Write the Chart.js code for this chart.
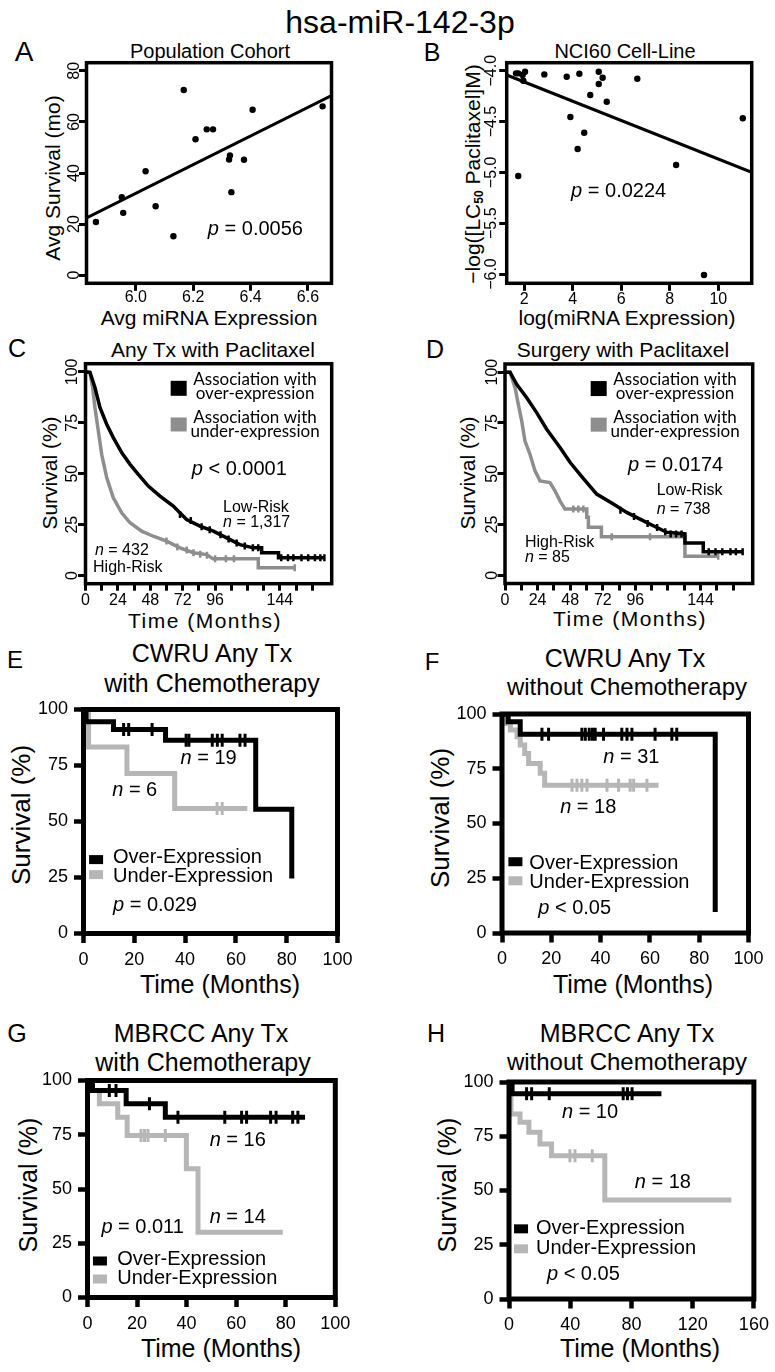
<!DOCTYPE html>
<html>
<head>
<meta charset="utf-8">
<script src="https://cdn.jsdelivr.net/npm/chart.js@4.4.1/dist/chart.umd.min.js"></script>
<style>
body { margin: 0; background: #fff; }
#page { position: relative; width: 775px; height: 1372px; overflow: hidden; font-family: "Liberation Sans", Arial, sans-serif; color: #000; }
.t { position: absolute; white-space: nowrap; line-height: 1; transform: translate(-50%, -50%); }
.r { transform: translate(-50%, -50%) rotate(-90deg); }
.ls { letter-spacing: 1.5px; }
canvas { position: absolute; }
sub { font-size: 12px; font-weight: bold; vertical-align: -3px; }
</style>
</head>
<body>
<div id="page">
  <div class="t" style="left:400px;top:22px;font-size:32px">hsa-miR-142-3p</div>

  <div class="t" style="left:24px;top:52px;font-size:28px">A</div>
  <div class="t" style="left:432px;top:52px;font-size:25px">B</div>
  <div class="t" style="left:17px;top:348px;font-size:25px">C</div>
  <div class="t" style="left:435px;top:349px;font-size:25px">D</div>
  <div class="t" style="left:15px;top:660px;font-size:24px">E</div>
  <div class="t" style="left:432px;top:662px;font-size:24px">F</div>
  <div class="t" style="left:17px;top:1033px;font-size:25px">G</div>
  <div class="t" style="left:436px;top:1033px;font-size:25px">H</div>

  <div class="t" style="left:210px;top:51px;font-size:20px">Population Cohort</div>
  <div class="t" style="left:625px;top:51px;font-size:20px">NCI60 Cell-Line</div>
  <div class="t" style="left:213px;top:349px;font-size:21px">Any Tx with Paclitaxel</div>
  <div class="t" style="left:623px;top:349px;font-size:21px">Surgery with Paclitaxel</div>
  <div class="t" style="left:212px;top:653px;font-size:25px">CWRU Any Tx</div>
  <div class="t" style="left:212px;top:683px;font-size:25px">with Chemotherapy</div>
  <div class="t" style="left:625px;top:658px;font-size:25px">CWRU Any Tx</div>
  <div class="t" style="left:627px;top:687px;font-size:24px">without Chemotherapy</div>
  <div class="t" style="left:201px;top:1033px;font-size:25px">MBRCC Any Tx</div>
  <div class="t" style="left:203px;top:1062px;font-size:25px">with Chemotherapy</div>
  <div class="t" style="left:627px;top:1033px;font-size:25px">MBRCC Any Tx</div>
  <div class="t" style="left:627px;top:1062px;font-size:24px">without Chemotherapy</div>

  <div class="t" style="left:209px;top:317px;font-size:21px">Avg miRNA Expression</div>
  <div class="t r" style="left:52px;top:178px;font-size:21px">Avg Survival (mo)</div>
  <div class="t" style="left:627px;top:317px;font-size:21px">log(miRNA Expression)</div>
  <div class="t r" style="left:473px;top:174px;font-size:21px">−log([LC<sub>50</sub> Paclitaxel]M)</div>
  <div class="t ls" style="left:205px;top:620px;font-size:21px">Time (Months)</div>
  <div class="t r" style="left:49px;top:473px;font-size:21px">Survival (%)</div>
  <div class="t ls" style="left:630px;top:618px;font-size:21px">Time (Months)</div>
  <div class="t r" style="left:467px;top:473px;font-size:21px">Survival (%)</div>
  <div class="t" style="left:220px;top:984px;font-size:25px">Time (Months)</div>
  <div class="t r" style="left:21px;top:815px;font-size:26px">Survival (%)</div>
  <div class="t" style="left:633px;top:984px;font-size:25px">Time (Months)</div>
  <div class="t r" style="left:440px;top:818px;font-size:26px">Survival (%)</div>
  <div class="t" style="left:221px;top:1348px;font-size:25px">Time (Months)</div>
  <div class="t r" style="left:28px;top:1185px;font-size:25px">Survival (%)</div>
  <div class="t" style="left:640px;top:1348px;font-size:25px">Time (Months)</div>
  <div class="t r" style="left:447px;top:1185px;font-size:25px">Survival (%)</div>
</div>

<script>
const FONT = '"Liberation Sans", Arial, sans-serif';
const LEGFONT = 'Lato, "Open Sans", sans-serif';
Chart.defaults.font.family = FONT;
Chart.defaults.color = '#000';

// A - population cohort scatter
const aExpr = [5.861, 5.951, 5.956, 6.034, 6.069, 6.131, 6.167, 6.208, 6.247, 6.269, 6.328, 6.325, 6.333, 6.377, 6.407, 6.651];
const aSurv = [20.8, 30.5, 24.4, 40.7, 27.0, 15.2, 72.5, 53.2, 57.1, 57.1, 46.9, 45.3, 32.5, 45.2, 64.8, 66.1];
const aFitX = [5.828, 6.682];
const aFitY = [22.4, 70.3];
const aXTicks = [6.0, 6.2, 6.4, 6.6];
const aYTicks = [0, 20, 40, 60, 80];

// B - NCI60 scatter
const bExpr = [1.658, 1.753, 1.93, 2.03, 1.96, 2.825, 3.75, 4.27, 5.07, 5.23, 5.07, 4.72, 5.40, 6.66, 3.90, 4.47, 4.20, 1.75, 8.26, 11.01, 9.41];
const bLogLC50 = [-4.026, -4.026, -4.042, -4.01, -4.098, -4.036, -4.059, -4.029, -4.01, -4.069, -4.131, -4.239, -4.305, -4.079, -4.455, -4.61, -4.77, -5.035, -4.927, -4.468, -6.009];
const bFitX = [1.274, 11.377];
const bFitY = [-4.042, -4.999];
const bXTicks = [2, 4, 6, 8, 10];
const bYTicks = [-6, -5.5, -5, -4.5, -4];

// C - any tx with paclitaxel
const cLowTime = [0, 3.3, 7.0, 10.7, 15.7, 20.6, 26.8, 33.0, 39.1, 46.5, 55.2, 65.0, 74.9, 84.8, 94.7, 104.6, 114.4, 124.3, 130.5, 130.5, 143, 143, 177];
const cLowSurv = [100, 99.7, 92.3, 82.5, 74.3, 67.7, 60.4, 54.6, 49.7, 43.9, 39.0, 34.1, 27.5, 24.3, 21.8, 18.5, 15.2, 13.6, 13.6, 11.2, 11.2, 8.7, 8.7];
const cHighTime = [0, 3.3, 5.3, 7.0, 9.5, 12.0, 15.7, 20.6, 26.8, 33.0, 41.6, 50.2, 60.1, 70.0, 79.9, 89.8, 94.5, 128, 128, 155];
const cHighSurv = [100, 99.7, 92.3, 82.5, 71.0, 59.5, 48.1, 38.2, 30.8, 25.9, 21.8, 19.3, 16.9, 13.6, 11.2, 10.3, 8.2, 8.2, 3.8, 3.8];
const cLowCensTime = [70, 78, 86, 92, 100, 106, 112, 118, 124, 128, 145, 150, 154, 160, 165, 170, 174, 177];
const cLowCensSurv = [30, 27, 24, 22.5, 20, 18, 16, 14.5, 13.6, 13.6, 8.7, 8.7, 8.7, 8.7, 8.7, 8.7, 8.7, 8.7];
const cHighCensTime = [60, 68, 75, 80, 85, 90, 96, 104, 110, 155];
const cHighCensSurv = [17, 14, 12.5, 11.2, 10.5, 10, 8.2, 8.2, 8.2, 3.8];

// D - surgery with paclitaxel
const dLowTime = [0, 3.7, 8.6, 16, 23.3, 30.7, 40.5, 48, 57, 67.5, 79.8, 89.6, 99.4, 109.2, 119.1, 132.5, 132.5, 146, 146, 175];
const dLowSurv = [100, 100, 94, 87.4, 80.1, 71.9, 62.9, 55.5, 48.2, 40, 35.1, 31, 27.7, 24.4, 21.2, 20.4, 15.9, 15.9, 11.6, 11.6];
const dHighTime = [0, 3.7, 7.4, 9.8, 12.3, 14.7, 18.4, 22.1, 25.8, 33.1, 36.8, 40.5, 44.2, 60.2, 60.2, 61.4, 61.4, 71, 71, 132.5, 132.5, 157];
const dHighSurv = [100, 100, 92.3, 84.1, 76, 66.1, 59.6, 51.4, 46.5, 45.7, 41.6, 36.7, 32.6, 32.6, 28.6, 28.6, 23.7, 23.7, 19, 19, 9.4, 9.4];
const dLowCensTime = [85, 95, 105, 112, 118, 122, 126, 130, 150, 155, 160, 166, 170, 175];
const dLowCensSurv = [32, 29, 25.5, 23.5, 21.5, 20.4, 20.4, 20.4, 11.6, 11.6, 11.6, 11.6, 11.6, 11.6];
const dHighCensTime = [50.3, 54, 57.7, 78.6, 106.8, 157];
const dHighCensSurv = [32.6, 32.6, 32.6, 19, 19, 9.4];

const cdXTicks = [0, 12, 24, 36, 48, 60, 72, 84, 96, 108, 120, 132, 144, 156, 168];
const cdXLabels = [0, 24, 48, 72, 96, 144];
const kmYTicks = [0, 25, 50, 75, 100];

// E - CWRU with chemotherapy
const eOverTime = [0, 1, 11.8, 32.3, 67.8, 82];
const eOverSurv = [100, 94.5, 91.1, 86.3, 55.5, 24.6];
const eUnderTime = [0, 2, 17.1, 35.9, 64.5];
const eUnderSurv = [100, 83.3, 71.4, 55.8, 55.8];
const eOverCensTime = [15.8, 17.8, 27, 40.4, 41.5, 50.7, 52.7, 54.6, 61.6, 63.6];
const eOverCensSurv = [91.1, 91.1, 91.1, 86.3, 86.3, 86.3, 86.3, 86.3, 86.3, 86.3];
const eUnderCensTime = [52.6, 54.6];
const eUnderCensSurv = [55.8, 55.8];

// F - CWRU without chemotherapy
const fOverTime = [0, 2.5, 7.4, 86.5];
const fOverSurv = [100, 96.5, 90.7, 9.6];
const fUnderTime = [0, 1, 3.4, 6.1, 7.4, 9.2, 10.8, 15.5, 17.3, 63.5];
const fUnderSurv = [100, 95.7, 92.7, 89.6, 85.8, 82.0, 77.4, 72.9, 67.5, 67.5];
const fOverCensTime = [16.2, 18.9, 32.4, 33.8, 35.4, 36.7, 37.8, 41.2, 48.6, 50.7, 52.7, 62.1, 68.9, 70.9];
const fOverCensSurv = [90.7, 90.7, 90.7, 90.7, 90.7, 90.7, 90.7, 90.7, 90.7, 90.7, 90.7, 90.7, 90.7, 90.7];
const fUnderCensTime = [28.4, 30.4, 32.4, 34.5, 42.6, 47.3, 52.0, 53.4, 58.8];
const fUnderCensSurv = [67.5, 67.5, 67.5, 67.5, 67.5, 67.5, 67.5, 67.5, 67.5];

// G - MBRCC with chemotherapy
const gOverTime = [0, 2, 15.6, 31.4, 87.8];
const gOverSurv = [100, 95.4, 89.3, 83.1, 83.1];
const gUnderTime = [0, 2, 4.8, 12.2, 16, 39.9, 44.6, 78.8];
const gUnderSurv = [100, 95.4, 89.3, 83.1, 74.7, 59.3, 30.1, 30.1];
const gOverCensTime = [8.8, 11.5, 25, 36.5, 55.4, 62.2, 64.2, 73.9, 76.1, 82.8, 84.9];
const gOverCensSurv = [95.4, 95.4, 89.3, 83.1, 83.1, 83.1, 83.1, 83.1, 83.1, 83.1, 83.1];
const gUnderCensTime = [21.6, 23.0, 24.4, 31.4];
const gUnderCensSurv = [74.7, 74.7, 74.7, 74.7];

// H - MBRCC without chemotherapy
const hOverTime = [0, 2, 99.6];
const hOverSurv = [100, 94.6, 94.6];
const hUnderTime = [0, 1.3, 7.2, 13, 20.2, 27.8, 62.6, 145.3];
const hUnderSurv = [100, 85.3, 81.4, 76.8, 71.4, 66.0, 45.6, 45.6];
const hOverCensTime = [11.5, 14.8, 26.3, 74.6, 77.4, 80.4];
const hOverCensSurv = [94.6, 94.6, 94.6, 94.6, 94.6, 94.6];
const hUnderCensTime = [39.8, 43.1, 54.4];
const hUnderCensSurv = [66.0, 66.0, 66.0];

const efgXTicks = [0, 20, 40, 60, 80, 100];
const hXTicks = [0, 40, 80, 120, 160];

const GREY_DARK = '#8e8e8e';
const GREY_LIGHT = '#b6b6b6';

const pts = (xs, ys) => xs.map((v, i) => ({ x: v, y: ys[i] }));

function curve(xs, ys, color, width, stepped) {
  return { data: pts(xs, ys), borderColor: color, borderWidth: width, pointRadius: 0,
    stepped: stepped, tension: 0, fill: false, borderJoinStyle: 'miter' };
}
function censors(xs, ys, color, r, w) {
  return { data: pts(xs, ys), showLine: false, pointStyle: 'line', pointRotation: 90,
    pointRadius: r, pointBorderWidth: w, pointBorderColor: color, borderColor: color };
}
function dots(xs, ys) {
  return { data: pts(xs, ys), showLine: false, pointStyle: 'circle', pointRadius: 3.2,
    pointBackgroundColor: '#000', pointBorderWidth: 0, borderColor: '#000' };
}

function axisOpts(a, horizontal, edge) {
  return {
    type: 'linear', min: a.min, max: a.max,
    afterBuildTicks: s => { s.ticks = a.ticks.map(v => ({ value: v })); },
    afterFit: s => { if (horizontal) s.height = edge; else s.width = edge; },
    grid: { display: true, drawOnChartArea: false, drawTicks: true, tickLength: a.tl, tickWidth: a.tw, tickColor: '#000' },
    border: { display: false },
    ticks: { display: !!a.fmt, autoSkip: false, maxRotation: 0, minRotation: 0, padding: a.pad || 0,
      color: '#000', font: { family: FONT, size: a.size || 16 }, callback: v => (a.fmt ? a.fmt(v) : '') }
  };
}

function drawNote(ctx, px, py, n) {
  const size = n.size || 20;
  const fam = n.fam || FONT;
  const m = /^([pn]) (.*)$/.exec(n.t);
  const parts = m ? [[m[1], 'italic '], [' ' + m[2], '']] : [[n.t, '']];
  let w = 0;
  parts.forEach(p => { ctx.font = p[1] + size + 'px ' + fam; p.push(ctx.measureText(p[0]).width); w += p[2]; });
  let cx = n.align === 'center' ? px - w / 2 : px;
  ctx.textBaseline = 'middle';
  ctx.textAlign = 'left';
  ctx.fillStyle = '#000';
  parts.forEach(p => { ctx.font = p[1] + size + 'px ' + fam; ctx.fillText(p[0], cx, py); cx += p[2]; });
}

function decor(spec) {
  return {
    id: 'decor' + spec.id,
    afterDatasetsDraw(chart) {
      const { ctx, chartArea: a } = chart;
      ctx.save();
      ctx.lineWidth = spec.frame;
      ctx.strokeStyle = '#000';
      ctx.strokeRect(a.left, a.top, a.right - a.left, a.bottom - a.top);
      ctx.restore();
    },
    afterDraw(chart) {
      const { ctx, scales: { x, y } } = chart;
      ctx.save();
      if (spec.yLab) {
        ctx.font = spec.yLab.size + 'px ' + FONT;
        ctx.fillStyle = '#000';
        ctx.textAlign = 'center';
        ctx.textBaseline = 'middle';
        spec.yLab.values.forEach(v => {
          ctx.save();
          ctx.translate(spec.yLab.cx - spec.box[0], y.getPixelForValue(v));
          ctx.rotate(-Math.PI / 2);
          ctx.fillText(spec.yLab.fmt(v), 0, 0);
          ctx.restore();
        });
      }
      (spec.boxes || []).forEach(b => {
        ctx.fillStyle = b.color;
        ctx.fillRect(x.getPixelForValue(b.x), y.getPixelForValue(b.y), b.w, b.h);
      });
      (spec.notes || []).forEach(n => drawNote(ctx, x.getPixelForValue(n.x), y.getPixelForValue(n.y), n));
      ctx.restore();
    }
  };
}

function makePanel(spec) {
  const [bx, by, bw, bh] = spec.box;
  const [l, t, r, b] = spec.area;
  const cv = document.createElement('canvas');
  cv.width = bw;
  cv.height = bh;
  cv.style.left = bx + 'px';
  cv.style.top = by + 'px';
  document.getElementById('page').appendChild(cv);
  new Chart(cv, {
    type: 'line',
    data: { datasets: spec.datasets },
    options: {
      responsive: false, animation: false, events: [], devicePixelRatio: 1,
      layout: { padding: { top: t - by, right: bx + bw - r, left: 0, bottom: 0 } },
      plugins: { legend: { display: false }, tooltip: { enabled: false } },
      scales: {
        x: axisOpts(spec.x, true, by + bh - b),
        y: axisOpts(spec.y, false, l - bx)
      }
    },
    plugins: [decor(spec)]
  });
}

const fmt1 = v => v.toFixed(1);
const fmtNeg = v => '\u2212' + Math.abs(v).toFixed(1);
const fmtInt = v => String(v);
const fmtCD = v => (cdXLabels.includes(v) ? String(v) : '');

// A
makePanel({
  id: 'A', box: [0, 35, 385, 300], area: [86.5, 62.7, 331.5, 283.3], frame: 3.5,
  x: { min: 5.828, max: 6.682, ticks: aXTicks, fmt: fmt1, tl: 7.5, tw: 3, size: 16, pad: -2.5 },
  y: { min: -3.2, max: 83.2, ticks: aYTicks, tl: 7.5, tw: 3 },
  yLab: { cx: 75, values: aYTicks, fmt: fmtInt, size: 16 },
  datasets: [dots(aExpr, aSurv), curve(aFitX, aFitY, '#000', 3, false)],
  notes: [{ x: 6.251, y: 17.8, t: 'p = 0.0056', size: 20 }]
});

// B
makePanel({
  id: 'B', box: [420, 35, 355, 300], area: [506.7, 62.7, 751.7, 283.3], frame: 3.5,
  x: { min: 1.274, max: 11.377, ticks: bXTicks, fmt: fmtInt, tl: 7.5, tw: 3, size: 16, pad: -1 },
  y: { min: -6.091, max: -3.921, ticks: bYTicks, tl: 7.5, tw: 3 },
  yLab: { cx: 491.7, values: bYTicks, fmt: fmtNeg, size: 16 },
  datasets: [dots(bExpr, bLogLC50), curve(bFitX, bFitY, '#000', 3, false)],
  notes: [{ x: 3.93, y: -5.19, t: 'p = 0.0224', size: 20 }]
});

function cdNotes(legX) {
  return [
    { x: legX, y: 96.4, t: 'Association with', size: 17, fam: LEGFONT, align: 'center' },
    { x: legX, y: 89.4, t: 'over-expression', size: 17, fam: LEGFONT, align: 'center' },
    { x: legX, y: 77.6, t: 'Association with', size: 17, fam: LEGFONT, align: 'center' },
    { x: legX, y: 70.7, t: 'under-expression', size: 17, fam: LEGFONT, align: 'center' }
  ];
}
const cdBoxes = [
  { x: 63.1, y: 95.6, w: 16, h: 15, color: '#000' },
  { x: 63.1, y: 77.6, w: 16, h: 14, color: GREY_DARK }
];

// C
makePanel({
  id: 'C', box: [0, 355, 385, 265], area: [85.5, 363.7, 331.7, 583.7], frame: 3.5,
  x: { min: 0, max: 182.4, ticks: cdXTicks, fmt: fmtCD, tl: 7, tw: 3, size: 16, pad: 0.5 },
  y: { min: -4, max: 104, ticks: kmYTicks, tl: 7.5, tw: 3 },
  yLab: { cx: 72.5, values: kmYTicks, fmt: fmtInt, size: 16 },
  datasets: [
    censors(cLowCensTime, cLowCensSurv, '#000', 3.5, 2.5),
    curve(cLowTime, cLowSurv, '#000', 3.5, false),
    censors(cHighCensTime, cHighCensSurv, GREY_DARK, 3.5, 2.5),
    curve(cHighTime, cHighSurv, GREY_DARK, 3.5, false)
  ],
  boxes: cdBoxes,
  notes: [
    { x: 78.7, y: 52.1, t: 'p < 0.0001', size: 20 },
    { x: 101.9, y: 33.3, t: 'Low-Risk', size: 16 },
    { x: 101.9, y: 25.9, t: 'n = 1,317', size: 16 },
    { x: 7.0, y: 12.3, t: 'n = 432', size: 16 },
    { x: 5.6, y: 3.8, t: 'High-Risk', size: 16 }
  ].concat(cdNotes(125.6))
});

// D
makePanel({
  id: 'D', box: [420, 355, 355, 265], area: [505, 364, 752.7, 583.5], frame: 3.5,
  x: { min: 0, max: 182.4, ticks: cdXTicks, fmt: fmtCD, tl: 7, tw: 3, size: 16, pad: 0.5 },
  y: { min: -4, max: 104, ticks: kmYTicks, tl: 7.5, tw: 3 },
  yLab: { cx: 492.5, values: kmYTicks, fmt: fmtInt, size: 16 },
  datasets: [
    censors(dLowCensTime, dLowCensSurv, '#000', 3.5, 2.5),
    curve(dLowTime, dLowSurv, '#000', 3.5, false),
    censors(dHighCensTime, dHighCensSurv, GREY_DARK, 3.5, 2.5),
    curve(dHighTime, dHighSurv, GREY_DARK, 3.5, false)
  ],
  boxes: cdBoxes,
  notes: [
    { x: 90.6, y: 53.9, t: 'p = 0.0174', size: 20 },
    { x: 111.7, y: 41.6, t: 'Low-Risk', size: 16 },
    { x: 111.7, y: 32.6, t: 'n = 738', size: 16 },
    { x: 14.7, y: 16.3, t: 'High-Risk', size: 16 },
    { x: 14.7, y: 8.6, t: 'n = 85', size: 16 }
  ].concat(cdNotes(125.2))
});

function kmPanel(id, box, area, xMax, xTicks, over, under, overCens, underCens, legX, legTopOver, legTopUnder, notes) {
  makePanel({
    id, box, area, frame: 5,
    x: { min: 0, max: xMax, ticks: xTicks, fmt: fmtInt, tl: 9.5, tw: 4.5, size: 18, pad: 6.1 },
    y: { min: 0, max: 100, ticks: kmYTicks, fmt: fmtInt, tl: 9.5, tw: 4.5, size: 18, pad: 6 },
    datasets: [
      censors(overCens[0], overCens[1], '#000', 6.5, 3),
      curve(over[0], over[1], '#000', 5, true),
      censors(underCens[0], underCens[1], GREY_LIGHT, 6.5, 3),
      curve(under[0], under[1], GREY_LIGHT, 5, true)
    ],
    boxes: [
      { x: legX, y: legTopOver, w: 14, h: 9, color: '#000' },
      { x: legX, y: legTopUnder, w: 14, h: 9, color: GREY_LIGHT }
    ],
    notes
  });
}

kmPanel('E', [0, 690, 385, 285], [83.5, 709.5, 337.5, 933.5], 100, efgXTicks,
  [eOverTime, eOverSurv], [eUnderTime, eUnderSurv],
  [eOverCensTime, eOverCensSurv], [eUnderCensTime, eUnderCensSurv],
  2.2, 35.0, 28.3,
  [
    { x: 38.2, y: 78.3, t: 'n = 19' },
    { x: 11.3, y: 64.0, t: 'n = 6' },
    { x: 11.6, y: 34.1, t: 'Over-Expression' },
    { x: 11.6, y: 25.6, t: 'Under-Expression' },
    { x: 11.6, y: 12.6, t: 'p = 0.029' }
  ]);

kmPanel('F', [420, 690, 355, 285], [502, 714, 748.5, 933], 100, efgXTicks,
  [fOverTime, fOverSurv], [fUnderTime, fUnderSurv],
  [fOverCensTime, fOverCensSurv], [fUnderCensTime, fUnderCensSurv],
  2.6, 34.6, 25.9,
  [
    { x: 41.1, y: 80.3, t: 'n = 31' },
    { x: 23.6, y: 57.5, t: 'n = 18' },
    { x: 11.1, y: 31.9, t: 'Over-Expression' },
    { x: 11.1, y: 23.2, t: 'Under-Expression' },
    { x: 14.7, y: 11.3, t: 'p < 0.05' }
  ]);

kmPanel('G', [0, 1062, 385, 280], [87.5, 1080.5, 335.3, 1297.5], 100, efgXTicks,
  [gOverTime, gOverSurv], [gUnderTime, gUnderSurv],
  [gOverCensTime, gOverCensSurv], [gUnderCensTime, gUnderCensSurv],
  2.2, 18.9, 10.6,
  [
    { x: 49.3, y: 72.4, t: 'n = 16' },
    { x: 49.3, y: 36.9, t: 'n = 14' },
    { x: 5.6, y: 32.3, t: 'p = 0.011' },
    { x: 12.0, y: 17.5, t: 'Over-Expression' },
    { x: 12.0, y: 8.8, t: 'Under-Expression' }
  ]);

kmPanel('H', [420, 1062, 355, 280], [509, 1082, 754.5, 1299], 160, hXTicks,
  [hOverTime, hOverSurv], [hUnderTime, hUnderSurv],
  [hOverCensTime, hOverCensSurv], [hUnderCensTime, hUnderCensSurv],
  3.3, 34.4, 25.2,
  [
    { x: 34.6, y: 85.9, t: 'n = 10' },
    { x: 82.2, y: 53.5, t: 'n = 18' },
    { x: 17.6, y: 32.6, t: 'Over-Expression' },
    { x: 17.6, y: 23.3, t: 'Under-Expression' },
    { x: 24.8, y: 11.3, t: 'p < 0.05' }
  ]);
</script>
</body>
</html>
